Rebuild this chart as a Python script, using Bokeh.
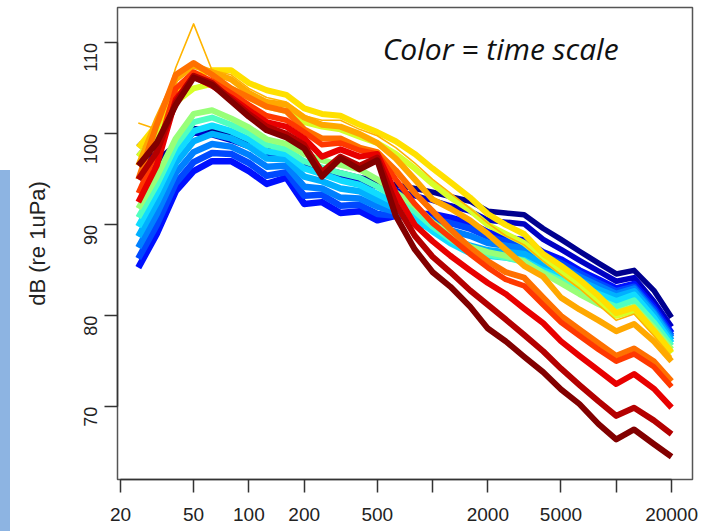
import math
from bokeh.plotting import figure
from bokeh.models import FixedTicker, Label, Div, Range1d
from bokeh.layouts import row
from bokeh.embed import file_html
from bokeh.resources import INLINE

# third-octave band centre frequencies (Hz)
freqs = [25, 31.5, 40, 50, 63, 80, 100, 125, 160, 200, 250, 315, 400, 500, 630,
         800, 1000, 1250, 1600, 2000, 2500, 3150, 4000, 5000, 6300, 8000,
         10000, 12500, 16000, 20000]

# representative spectra (dB re 1uPa), ordered in time (jet colour scale)
db_navy1 = [99.0, 97.0, 98.8, 100.6, 100.3, 99.8, 99.2, 98.3, 97.8, 96.9, 96.2, 95.7, 95.2, 94.8, 94.4,
            94.0, 93.6, 93.1, 92.6, 91.5, 91.3, 91.1, 89.6, 88.4, 87.1, 85.8, 84.6, 85.0, 82.8, 79.8]
db_navy2 = [98.0, 96.2, 98.2, 100.1, 99.9, 99.3, 98.6, 97.7, 97.2, 96.3, 95.6, 95.2, 94.7, 94.2, 93.8,
            93.2, 92.7, 92.1, 91.5, 90.5, 90.3, 90.1, 88.4, 87.3, 86.1, 84.9, 83.8, 84.2, 81.6, 78.8]
db_blue = [85.3, 89.0, 93.7, 95.9, 97.0, 97.0, 95.9, 94.5, 95.2, 92.3, 92.5, 91.3, 91.5, 90.5, 91.0,
           91.2, 91.2, 90.8, 90.2, 89.2, 88.6, 88.3, 87.0, 86.2, 85.0, 84.0, 83.0, 83.5, 81.0, 78.1]
db_blue2 = [86.3, 90.0, 94.6, 96.9, 97.9, 97.8, 96.8, 95.4, 95.8, 93.2, 93.3, 92.1, 92.2, 91.2, 91.0,
            90.8, 90.6, 90.2, 89.6, 88.7, 88.2, 87.9, 86.6, 85.8, 84.7, 83.6, 82.7, 83.2, 80.7, 77.8]
db_lblue = [87.5, 91.2, 95.7, 98.0, 98.9, 98.6, 97.7, 96.4, 96.5, 94.2, 94.0, 93.0, 92.9, 92.0, 91.4,
            90.6, 90.0, 89.4, 88.8, 88.0, 87.7, 87.4, 86.2, 85.4, 84.3, 83.3, 82.4, 83.0, 80.4, 77.6]
db_sky = [88.7, 92.4, 96.8, 99.2, 100.0, 99.5, 98.6, 97.3, 97.2, 95.3, 94.8, 94.0, 93.7, 92.7, 91.8,
          90.4, 89.5, 88.6, 87.7, 87.2, 87.0, 86.8, 85.7, 84.9, 83.9, 82.9, 82.1, 82.7, 80.2, 77.3]
db_cyan = [89.8, 93.5, 97.8, 100.3, 100.9, 100.3, 99.4, 98.1, 97.8, 96.2, 95.6, 94.9, 94.4, 93.4, 92.4,
           90.8, 89.3, 88.0, 86.9, 86.6, 86.4, 86.1, 85.0, 84.2, 83.3, 82.4, 81.6, 82.3, 79.8, 77.0]
db_aqua = [90.8, 94.4, 98.7, 101.3, 101.8, 101.0, 100.1, 98.8, 98.3, 97.0, 96.3, 95.7, 95.2, 94.2, 93.0,
           91.5, 89.8, 88.4, 87.2, 86.7, 86.4, 85.9, 84.8, 83.9, 82.8, 81.8, 81.0, 81.7, 79.3, 76.7]
db_green = [91.8, 95.3, 99.5, 102.2, 102.6, 101.7, 100.7, 99.4, 98.9, 97.8, 97.1, 96.6, 96.1, 95.0, 93.6,
            92.1, 90.3, 88.9, 87.6, 87.0, 86.6, 86.0, 84.7, 83.6, 82.4, 81.3, 80.4, 81.0, 78.7, 76.3]
db_lime = [97.5, 100.0, 103.5, 105.0, 105.5, 105.0, 104.0, 103.0, 102.5, 101.3, 100.8, 100.5, 99.7, 99.0, 97.8,
           96.2, 94.5, 93.0, 91.6, 90.0, 89.0, 88.0, 86.3, 84.8, 83.3, 81.6, 80.0, 80.6, 78.3, 75.9]
db_yellow = [98.5, 101.0, 104.5, 106.3, 107.0, 107.0, 105.6, 104.8, 104.3, 102.8, 102.2, 102.0, 101.0, 100.2, 99.2,
             97.8, 96.2, 94.7, 93.0, 91.2, 90.0, 89.0, 86.8, 85.5, 84.0, 82.2, 80.3, 80.9, 78.4, 76.0]
db_spike = [101.2, 100.5, 107.3, 112.1, 107.0, 106.5, 105.0, 104.0, 103.5, 102.0, 101.5, 101.5, 100.5, 99.8, 98.5,
            96.8, 95.0, 93.5, 91.8, 90.2, 88.8, 87.8, 86.0, 84.5, 83.0, 81.2, 79.5, 80.2, 77.8, 75.5]
db_gold = [96.5, 101.5, 106.0, 107.5, 106.8, 106.0, 104.5, 103.5, 103.2, 101.8, 101.0, 100.8, 100.0, 99.0, 97.3,
           95.0, 92.8, 91.8, 90.5, 89.0, 87.3, 85.5, 84.3, 82.0, 80.7, 79.5, 78.3, 79.1, 77.2, 75.0]
db_orange = [95.0, 101.0, 106.5, 107.8, 106.5, 105.0, 104.0, 103.0, 102.5, 100.5, 99.5, 99.5, 98.5, 98.0, 96.0,
             93.5, 91.5, 89.5, 87.5, 86.0, 84.8, 84.2, 82.0, 80.0, 78.5, 77.0, 75.6, 76.4, 75.0, 72.8]
db_orred = [93.5, 98.0, 105.0, 106.8, 105.8, 104.5, 103.2, 102.0, 101.5, 100.2, 98.8, 99.0, 98.2, 97.8, 95.0,
            92.3, 90.2, 88.6, 86.8, 85.3, 84.0, 83.3, 81.2, 79.3, 77.8, 76.3, 75.0, 75.8, 74.4, 72.2]
db_red = [92.5, 96.5, 103.8, 106.3, 105.3, 104.0, 102.6, 101.3, 100.8, 99.5, 97.5, 98.3, 97.5, 97.8, 93.5,
          90.0, 88.2, 86.6, 85.0, 83.6, 82.4, 80.8, 79.2, 77.2, 75.6, 74.0, 72.5, 73.6, 72.0, 69.9]
db_darkred = [95.0, 98.0, 103.5, 106.4, 105.6, 103.8, 102.2, 100.8, 100.0, 98.8, 95.8, 97.5, 96.5, 97.4, 92.3,
              88.8, 86.5, 84.8, 82.8, 81.2, 79.6, 77.9, 76.1, 74.2, 72.4, 70.6, 69.0, 69.9, 68.5, 67.0]
db_maroon = [96.5, 99.0, 103.2, 106.2, 105.4, 103.6, 101.9, 100.4, 99.6, 98.4, 95.3, 97.3, 96.1, 97.1, 91.0,
             87.3, 84.8, 83.2, 81.0, 78.6, 77.2, 75.5, 73.8, 71.9, 70.3, 68.1, 66.4, 67.5, 65.9, 64.5]

x_ticks = [20, 50, 100, 200, 500, 1000, 2000, 5000, 10000, 20000]
x_tick_labels = ["20", "50", "100", "200", "500", "", "2000", "5000", "", "20000"]
y_ticks = [70, 80, 90, 100, 110]

series = [
    (db_navy1, "#00008F", 5.5), (db_navy2, "#0000C4", 5.5),
    (db_blue, "#0010FF", 6.5), (db_blue2, "#0048FF", 6.5),
    (db_lblue, "#0080FF", 6.5), (db_sky, "#00B0FF", 6.5),
    (db_cyan, "#10DCFF", 6.5), (db_aqua, "#50FFC0", 6.0),
    (db_green, "#98FF78", 6.0), (db_lime, "#D8FF28", 6.0),
    (db_yellow, "#FFE000", 6.0), (db_spike, "#FFB400", 1.6),
    (db_gold, "#FFA800", 6.0), (db_orange, "#FF7000", 6.0),
    (db_orred, "#FF3800", 5.5), (db_red, "#E80000", 6.0),
    (db_darkred, "#B40000", 6.0), (db_maroon, "#820000", 6.0),
]

p = figure(width=693, height=531, x_axis_type="log",
           x_range=Range1d(19.26, 26000), y_range=Range1d(62.0, 113.9),
           output_backend="svg", toolbar_location=None,
           min_border_left=107, min_border_right=11, min_border_top=7, min_border_bottom=52)

for ys, col, lw in series:
    p.line(freqs, ys, line_color=col, line_width=lw, line_join="round")

p.xgrid.visible = False
p.ygrid.visible = False
p.outline_line_color = "#555555"
p.outline_line_width = 1.5
p.background_fill_color = "white"
p.border_fill_color = "white"

xa = p.xaxis[0]
xa.ticker = FixedTicker(ticks=x_ticks)
xa.major_label_overrides = {t: l for t, l in zip(x_ticks, x_tick_labels)}
xa.minor_tick_line_color = None
xa.major_tick_out = 13
xa.major_tick_in = 0
xa.major_label_standoff = 15
xa.major_label_text_font = "Liberation Sans"
xa.major_label_text_font_size = "19px"
xa.major_label_text_color = "#222222"
xa.axis_line_color = "#333333"
xa.axis_line_width = 1.5
xa.major_tick_line_color = "#333333"
xa.major_tick_line_width = 1.5
xa.bounds = (20, 20000)

ya = p.yaxis[0]
ya.ticker = FixedTicker(ticks=y_ticks)
ya.minor_tick_line_color = None
ya.major_tick_out = 13
ya.major_tick_in = 0
ya.major_label_standoff = 14
ya.major_label_orientation = math.pi / 2
ya.major_label_text_font = "Liberation Sans"
ya.major_label_text_font_size = "18px"
ya.major_label_text_color = "#222222"
ya.axis_line_color = "#333333"
ya.axis_line_width = 1.5
ya.major_tick_line_color = "#333333"
ya.major_tick_line_width = 1.5
ya.bounds = (70, 110)
ya.axis_label = "dB (re 1uPa)"
ya.axis_label_text_font = "Liberation Sans"
ya.axis_label_text_font_size = "22px"
ya.axis_label_text_font_style = "normal"
ya.axis_label_text_color = "#222222"
ya.axis_label_standoff = 25

p.add_layout(Label(x=535, y=109.4, text="Color = time scale", text_font="Open Sans",
                   text_font_style="italic", text_font_size="30px", text_color="#111111",
                   text_baseline="alphabetic"))

strip = Div(text="", width=10, height=531,
            styles={"background-image": "linear-gradient(to bottom, #ffffff 170px, #8DB4E2 170px)",
                    "margin": "0", "padding": "0"})

layout = row(strip, p, spacing=0)

open("out.html", "w").write(file_html(layout, INLINE))
